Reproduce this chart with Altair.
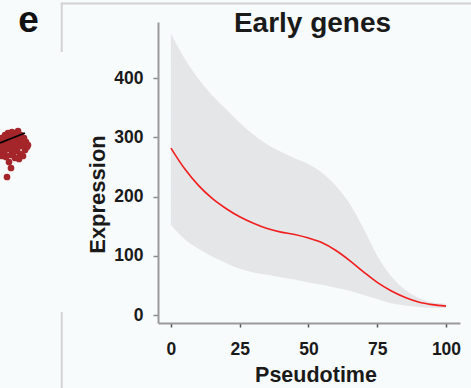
import altair as alt
import pandas as pd

# ---- data ----
pseudotime = [0, 5, 10, 15, 20, 25, 30, 35, 40, 45, 50, 55, 60, 65, 70, 75, 80, 85, 90, 95, 100]
fit = [282, 247, 219, 197, 180, 166, 155, 146, 140, 136, 130, 122, 109, 92, 73, 55, 41, 30, 22, 17.5, 15]
upper = [475, 433, 399, 371, 348, 325, 305, 288, 276, 265, 255, 240, 218, 188, 146, 100, 66, 43, 29, 21, 19]
lower = [152, 128, 112, 99, 88, 78, 72, 68, 64, 60, 55, 51, 46, 41, 34, 27, 20, 16, 13.5, 12, 12]
x_ticks = [0, 25, 50, 75, 100]
y_ticks = [0, 100, 200, 300, 400]
title_text = "Early genes"
panel_letter = "e"

# fragment of the neighbouring panel (red scatter + fit line), arbitrary units
blob_x = [0.2, 0.5, 0.8, 1.2, 1.5, 1.8, 2.1, 2.4, 2.6, 0.3, 0.6, 0.9, 1.3, 1.6, 1.9, 2.2, 2.5,
          0.1, 0.4, 0.7, 1.0, 1.4, 1.7, 2.0, 0.2, 0.6, 1.1, 1.5, 1.9, 0.9, 1.1, 0.7, 2.7, 2.3, 1.3,
          0.0, 0.4, 1.0, 1.6, 2.2, 0.3, 0.8, 1.3, 1.8, 2.0, 0.5, 1.2, 2.4, 2.8, 0.1]
blob_y = [4.2, 4.5, 4.7, 4.8, 4.6, 4.9, 4.5, 4.2, 3.8, 3.5, 3.8, 4.0, 4.1, 3.9, 3.7, 3.4, 3.0,
          3.0, 2.8, 3.1, 3.3, 3.2, 2.9, 2.6, 2.4, 2.3, 2.5, 2.2, 2.1, 1.8, 1.2, 0.3, 3.3, 2.4, 2.7,
          4.0, 4.1, 4.4, 4.3, 3.9, 3.3, 3.6, 3.6, 3.3, 4.2, 2.5, 2.9, 3.6, 3.5, 3.8]
seg_x = [0.0, 2.5]
seg_y = [3.7, 4.7]

df = pd.DataFrame({"t": pseudotime, "fit": fit, "hi": upper, "lo": lower})
blob_df = pd.DataFrame({"bx": blob_x, "by": blob_y})
seg_df = pd.DataFrame({"bx": seg_x, "by": seg_y})

FONT = "Liberation Sans"
xs = alt.Scale(domain=[-4.7, 105.1], nice=False, zero=False)
ys = alt.Scale(domain=[-13.5, 495], nice=False, zero=False)

x_axis = alt.Axis(values=x_ticks, title="Pseudotime", grid=False,
                  domainColor="#9a9a9a", domainWidth=2,
                  tickColor="#555555", tickSize=4, tickWidth=1.5,
                  labelFont=FONT, labelFontSize=17.5, labelFontWeight="bold",
                  labelColor="#1a1a1a", labelPadding=13,
                  titleFont=FONT, titleFontSize=21.5, titleFontWeight="bold",
                  titleColor="#1a1a1a", titleX=157.5, titleY=58,
                  titleBaseline="alphabetic", titleAlign="center")
y_axis = alt.Axis(values=y_ticks, title="Expression", grid=False,
                  domainColor="#9a9a9a", domainWidth=2,
                  tickColor="#8a8a8a", tickSize=5, tickWidth=1.5,
                  labelFont=FONT, labelFontSize=17.5, labelFontWeight="bold",
                  labelColor="#1a1a1a", labelPadding=10,
                  titleFont=FONT, titleFontSize=22, titleFontWeight="bold",
                  titleColor="#1a1a1a", titleX=-54, titleY=172, titleAngle=-90,
                  titleBaseline="alphabetic", titleAlign="center")

band = alt.Chart(df).mark_area(color="#e4e6e8", opacity=1, interpolate="monotone").encode(
    x=alt.X("t:Q", scale=xs, axis=x_axis),
    y=alt.Y("hi:Q", scale=ys, axis=y_axis),
    y2="lo:Q",
)
line = alt.Chart(df).mark_line(color="#f21d1d", strokeWidth=1.6, interpolate="monotone").encode(
    x=alt.X("t:Q", scale=xs),
    y=alt.Y("fit:Q", scale=ys),
)
main = alt.layer(band, line)

bxs = alt.Scale(domain=[0, 3], range=[-158, -128], nice=False, zero=False)
bys = alt.Scale(domain=[0, 6], range=[158, 98], nice=False, zero=False)
dots = alt.Chart(blob_df).mark_circle(color="#a5262a", opacity=1, size=45).encode(
    x=alt.X("bx:Q", scale=bxs, axis=None),
    y=alt.Y("by:Q", scale=bys, axis=None),
)
seg = alt.Chart(seg_df).mark_line(color="#000000", strokeWidth=1.8).encode(
    x=alt.X("bx:Q", scale=bxs, axis=None),
    y=alt.Y("by:Q", scale=bys, axis=None),
)
blob = alt.layer(dots, seg)

title = alt.Chart(pd.DataFrame({"s": [title_text]})).mark_text(
    font=FONT, fontSize=28, fontWeight="bold", color="#1a1a1a",
    align="center", baseline="alphabetic").encode(
    text="s:N", x=alt.value(154.5), y=alt.value(10.3))

letter = alt.Chart(pd.DataFrame({"s": [panel_letter]})).mark_text(
    font=FONT, fontSize=37, fontWeight="bold", color="#111111",
    align="center", baseline="alphabetic").encode(
    text="s:N", x=alt.value(-129.5), y=alt.value(10))

frame_df = pd.DataFrame({"k": [0]})
frame_top = alt.Chart(frame_df).mark_rule(color="#d2d2d2", strokeWidth=2).encode(
    x=alt.value(-96.3), x2=alt.value(320), y=alt.value(-18.5), y2=alt.value(-18.5))
frame_left1 = alt.Chart(frame_df).mark_rule(color="#d2d2d2", strokeWidth=2).encode(
    x=alt.value(-96.3), x2=alt.value(-96.3), y=alt.value(-19.5), y2=alt.value(30))
frame_left2 = alt.Chart(frame_df).mark_rule(color="#d2d2d2", strokeWidth=2).encode(
    x=alt.value(-96.3), x2=alt.value(-96.3), y=alt.value(290), y2=alt.value(370))

chart = alt.layer(main, blob, title, letter, frame_top, frame_left1, frame_left2).resolve_scale(
    x="independent", y="independent"
).properties(
    width=302, height=301,
    autosize=alt.AutoSizeParams(type="none"),
    padding={"left": 158, "top": 22, "right": 11, "bottom": 65},
    background="#f8fbfc",
).configure_view(stroke=None)

chart.save("out.html", embed_options={"renderer": "svg", "actions": False})
